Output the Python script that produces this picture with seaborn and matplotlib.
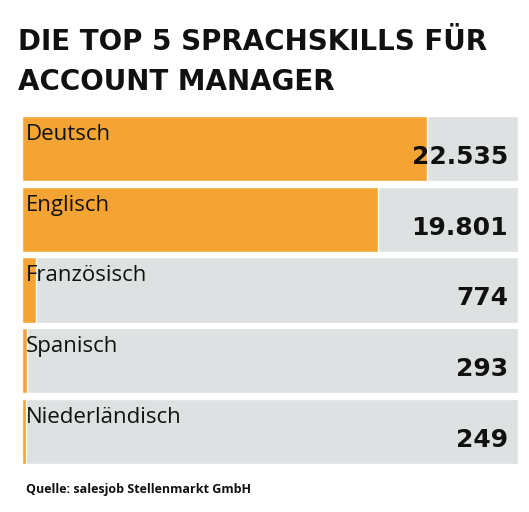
import matplotlib
matplotlib.use("Agg")
import matplotlib.pyplot as plt
import seaborn as sns
import pandas as pd

categories = ["Deutsch", "Englisch", "Französisch", "Spanisch", "Niederländisch"]
values = [22535, 19801, 774, 293, 249]
labels = ["22.535", "19.801", "774", "293", "249"]
axis_max = 27600

sns.set_theme(style="white")
plt.rcParams['font.family'] = ['Open Sans', 'DejaVu Sans']

df = pd.DataFrame({"cat": categories, "val": values, "bg": [axis_max]*len(values)})

fig = plt.figure(figsize=(5.29, 5.12), dpi=100)
ax = fig.add_axes([22/529, 1-467/512, 496/529, 354/512])
sns.barplot(data=df, y="cat", x="bg", color="#DDE1E1", width=0.92, ax=ax, orient="h", saturation=1)
sns.barplot(data=df, y="cat", x="val", color="#F4A433", width=0.92, ax=ax, orient="h", saturation=1)
ax.set_xlim(0, axis_max)
ax.set_ylim(4.5, -0.5)
ax.axis("off")
for i, (c, l) in enumerate(zip(categories, labels)):
    ax.text(axis_max*0.008, i-0.2, c, ha="left", va="center", fontsize=16, color="#111111")
    ax.text(axis_max*0.98, i+0.12, l, ha="right", va="center", fontsize=18, fontweight="bold",
            color="#111111", family="DejaVu Sans")

fig.text(18/529, 1-42/512, "DIE TOP 5 SPRACHSKILLS FÜR", fontsize=20, fontweight="bold", va="center",
         color="#111111", family="DejaVu Sans")
fig.text(18/529, 1-82/512, "ACCOUNT MANAGER", fontsize=20, fontweight="bold", va="center",
         color="#111111", family="DejaVu Sans")
fig.text(26/529, 1-489/512, "Quelle: salesjob Stellenmarkt GmbH", fontsize=9, fontweight="bold", va="center", color="#111111")
fig.savefig("out.png", dpi=100)
